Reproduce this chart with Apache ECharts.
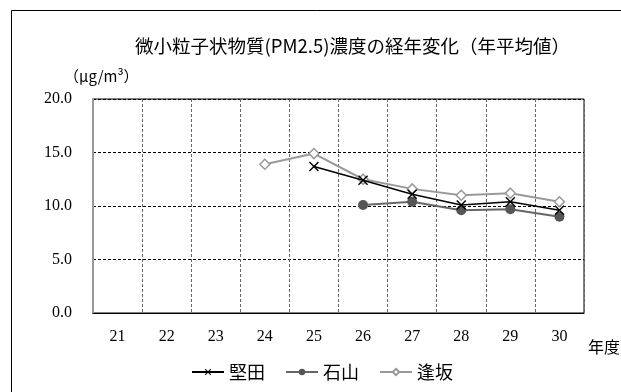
<!DOCTYPE html>
<html><head><meta charset="utf-8">
<script src="https://cdn.jsdelivr.net/npm/echarts@6/dist/echarts.min.js"></script>
<style>html,body{margin:0;padding:0;background:#fff}#c{width:621px;height:392px}</style>
</head><body><div id="c"></div>
<script>
const categories = ['21','22','23','24','25','26','27','28','29','30'];
const katata  = [null, null, null, null, 13.7, 12.4, 11.1, 10.1, 10.4, 9.6];
const ishiyama = [null, null, null, null, null, 10.1, 10.4, 9.6, 9.7, 9.0];
const ousaka  = [null, null, null, 13.9, 14.9, 12.5, 11.6, 11.0, 11.2, 10.4];
const yTicks = [0, 5, 10, 15, 20];

const xPath = 'path://M0,1 L1,0 L5,4 L9,0 L10,1 L6,5 L10,9 L9,10 L5,6 L1,10 L0,9 L4,5 Z';
const chart = echarts.init(document.getElementById('c'));
const cjk = '"Noto Sans CJK JP", sans-serif';
const serif = '"Liberation Serif", "DejaVu Serif", serif';
chart.setOption({
  animation: false,
  title: {
    text: '微小粒子状物質(PM2.5)濃度の経年変化（年平均値）',
    left: 130, top: 32,
    textStyle: {fontFamily: cjk, fontSize: 18.5, fontWeight: 'normal', color: '#000'}
  },
  graphic: [
    {type: 'rect', shape: {x: 11.5, y: 10.5, width: 700, height: 500}, style: {fill: null, stroke: '#000', lineWidth: 1}, silent: true},
    {type: 'text', left: 64, top: 69, style: {text: '（μg/m³）', font: '15px ' + cjk, fill: '#000'}},
    {type: 'text', left: 588, top: 339, style: {text: '年度', font: '16px ' + cjk, fill: '#000'}}
  ],
  legend: {
    bottom: 6, left: 186,
    itemWidth: 32, itemHeight: 8, itemGap: 20,
    textStyle: {fontFamily: cjk, fontSize: 18, color: '#000'},
    data: ['堅田', '石山', '逢坂']
  },
  grid: {left: 93, right: 37, top: 99, bottom: 79, show: true, borderColor: '#000', borderWidth: 1, backgroundColor: 'transparent'},
  xAxis: {
    type: 'category', data: categories, boundaryGap: true,
    axisLine: {lineStyle: {color: '#000', width: 1}},
    axisTick: {show: false},
    axisLabel: {fontFamily: serif, fontSize: 16, color: '#000', margin: 16},
    splitLine: {show: true, lineStyle: {color: '#666', type: [3, 2], width: 1}}
  },
  yAxis: {
    type: 'value', min: 0, max: 20, interval: 5,
    axisLine: {show: true, lineStyle: {color: '#999', width: 2}},
    axisTick: {show: false},
    axisLabel: {fontFamily: serif, fontSize: 16, color: '#000', margin: 21,
      formatter: v => yTicks.includes(v) ? v.toFixed(1) : ''},
    splitLine: {show: true, lineStyle: {color: '#000', type: [3, 2], width: 1}}
  },
  series: [
    {name: '堅田', type: 'line', data: katata, connectNulls: false,
     symbol: xPath, symbolSize: 10, showAllSymbol: true,
     lineStyle: {color: '#000', width: 1.5}, itemStyle: {color: '#000'}, z: 3},
    {name: '石山', type: 'line', data: ishiyama,
     symbol: 'circle', symbolSize: 10, showAllSymbol: true,
     lineStyle: {color: '#666', width: 2}, itemStyle: {color: '#555'}, z: 2},
    {name: '逢坂', type: 'line', data: ousaka,
     symbol: 'diamond', symbolSize: 10, showAllSymbol: true,
     lineStyle: {color: '#999', width: 2}, itemStyle: {color: '#fff', borderColor: '#999', borderWidth: 1.5}, z: 1}
  ]
});
</script></body></html>
